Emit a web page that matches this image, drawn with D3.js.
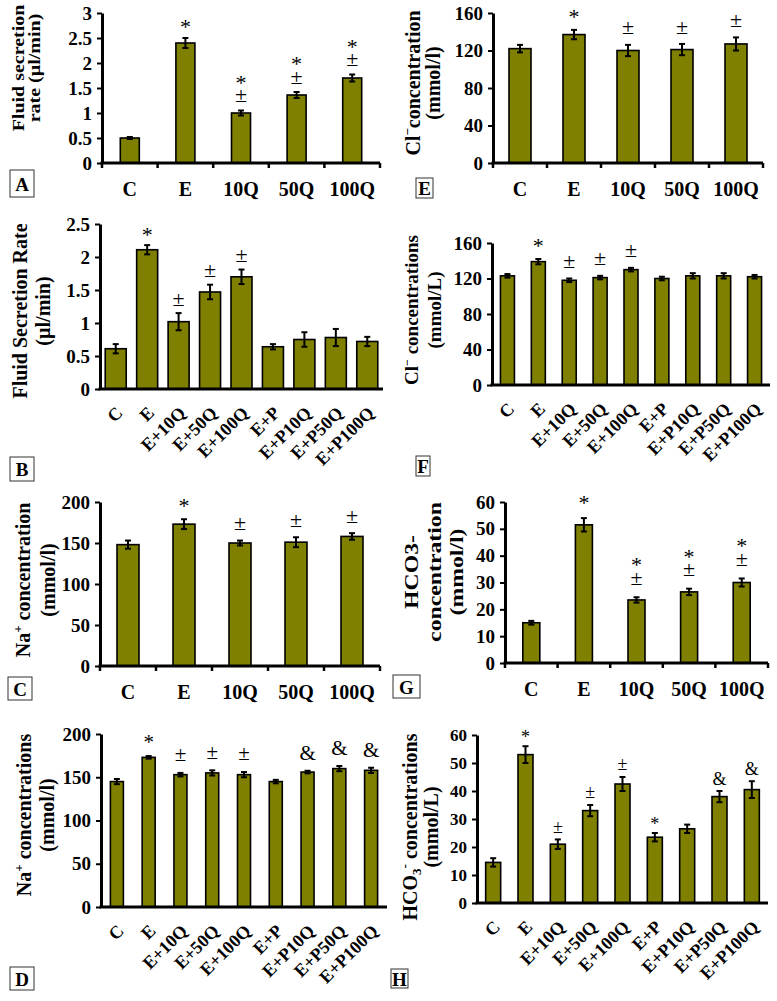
<!DOCTYPE html>
<html>
<head>
<meta charset="utf-8">
<script src="https://d3js.org/d3.v7.min.js"></script>
<style>
body { margin: 0; background: #fff; }
</style>
</head>
<body>
<svg id="fig" width="777" height="1001"></svg>
<script>
// categories
var shortCats = ["C", "E", "10Q", "50Q", "100Q"];
var longCats = ["C", "E", "E+10Q", "E+50Q", "E+100Q", "E+P", "E+P10Q", "E+P50Q", "E+P100Q"];

// A - fluid secretion rate (µl/min)
var fluidA = [0.5, 2.4, 1.0, 1.36, 1.7];
var fluidAErr = [0.02, 0.1, 0.05, 0.06, 0.07];
var fluidAMarks = [[], ["*"], ["±", "*"], ["±", "*"], ["±", "*"]];

// B - fluid secretion rate with P
var fluidB = [0.61, 2.11, 1.02, 1.47, 1.70, 0.64, 0.75, 0.78, 0.72];
var fluidBErr = [0.07, 0.07, 0.13, 0.11, 0.11, 0.04, 0.11, 0.13, 0.07];
var fluidBMarks = [[], ["*"], ["±"], ["±"], ["±"], [], [], [], []];

// C - Na+
var naC = [148, 173, 150, 151, 158];
var naCErr = [5, 6, 3, 6, 4];
var naCMarks = [[], ["*"], ["±"], ["±"], ["±"]];

// D - Na+ with P
var naD = [145, 173, 153, 155, 153, 145, 156, 160, 158];
var naDErr = [3, 1.5, 2, 3, 3, 2, 1.5, 3, 3];
var naDMarks = [[], ["*"], ["±"], ["±"], ["±"], [], ["&"], ["&"], ["&"]];

// E - Cl-
var clE = [122, 137, 120, 121, 127];
var clEErr = [4, 5, 6, 6, 7];
var clEMarks = [[], ["*"], ["±"], ["±"], ["±"]];

// F - Cl- with P
var clF = [123, 139, 118, 121, 130, 120, 123, 123, 122];
var clFErr = [2, 3, 2, 2, 2, 2, 3, 3, 2];
var clFMarks = [[], ["*"], ["±"], ["±"], ["±"], [], [], [], []];

// G - HCO3-
var hcoG = [15, 51.5, 23.5, 26.5, 30];
var hcoGErr = [0.7, 2.5, 1.0, 1.2, 1.5];
var hcoGMarks = [[], ["*"], ["±", "*"], ["±", "*"], ["±", "*"]];

// H - HCO3- with P
var hcoH = [14.5, 53, 21, 33, 42.5, 23.5, 26.5, 38, 40.5];
var hcoHErr = [1.5, 3, 1.7, 2, 2.5, 1.5, 1.5, 2, 3];
var hcoHMarks = [[], ["*"], ["±"], ["±"], ["±"], ["*"], [], ["&"], ["&"]];

var serif = "'Liberation Serif', 'Times New Roman', serif";
var olive = "#7f7f00";

var panels = [
  { id: "A", cats: shortCats, vals: fluidA, errs: fluidAErr, marks: fluidAMarks,
    x0: 102, x1: 380, y0: 163, yTop: 13, max: 3, step: 0.5, barW: 19,
    tickFs: 19, catFs: 20, markFs: 22, markOff: 15, rot: false,
    title: [[{t: "Fluid secretion"}], [{t: "rate (µl/min)"}]], titleX: [24, 40], titleY: 68, titleFs: 20, titleScale: [0.82, 1],
    box: [10, 170, 24, 27] },
  { id: "B", cats: longCats, vals: fluidB, errs: fluidBErr, marks: fluidBMarks,
    x0: 100, x1: 383, y0: 389, yTop: 224, max: 2.5, step: 0.5, barW: 21,
    tickFs: 19, catFs: 18, markFs: 22, markOff: 14, rot: true,
    title: [[{t: "Fluid Secretion Rate"}], [{t: "(µl/min)"}]], titleX: [27, 50], titleY: 311, titleFs: 20, titleScale: [1, 1],
    box: [10, 457, 24, 24] },
  { id: "C", cats: shortCats, vals: naC, errs: naCErr, marks: naCMarks,
    x0: 100, x1: 380, y0: 666, yTop: 502, max: 200, step: 50, barW: 22,
    tickFs: 19, catFs: 20, markFs: 22, markOff: 17, rot: false,
    title: [[{t: "Na"}, {t: "+", sup: true}, {t: " concentration"}], [{t: "(mmol/l)"}]], titleX: [30, 55], titleY: 580, titleFs: 20, titleScale: [1, 1],
    box: [8, 677, 24, 23] },
  { id: "D", cats: longCats, vals: naD, errs: naDErr, marks: naDMarks,
    x0: 101, x1: 387, y0: 907, yTop: 734, max: 200, step: 50, barW: 13,
    tickFs: 19, catFs: 18, markFs: 21, markOff: 18, rot: true,
    title: [[{t: "Na"}, {t: "+", sup: true}, {t: " concentrations"}], [{t: "(mmol/l)"}]], titleX: [31, 54], titleY: 815, titleFs: 20, titleScale: [1, 1],
    box: [10, 967, 24, 23] },
  { id: "E", cats: shortCats, vals: clE, errs: clEErr, marks: clEMarks,
    x0: 493, x1: 763, y0: 163, yTop: 13, max: 160, step: 40, barW: 22,
    tickFs: 19, catFs: 20, markFs: 22, markOff: 17, rot: false,
    title: [[{t: "Cl"}, {t: "\u2212", sup: true}, {t: "concentration"}], [{t: "(mmol/l)"}]], titleX: [420, 440], titleY: 83, titleFs: 20, titleScale: [1, 1],
    box: [416, 178, 17, 20] },
  { id: "F", cats: longCats, vals: clF, errs: clFErr, marks: clFMarks,
    x0: 492, x1: 770, y0: 385, yTop: 243, max: 160, step: 40, barW: 14,
    tickFs: 19, catFs: 18, markFs: 22, markOff: 17, rot: true,
    title: [[{t: "Cl"}, {t: "\u2212", sup: true}, {t: " concentrations"}], [{t: "(mmol/L)"}]], titleX: [418, 441], titleY: 310, titleFs: 19, titleScale: [1, 1],
    box: [416, 456, 14, 20] },
  { id: "G", cats: shortCats, vals: hcoG, errs: hcoGErr, marks: hcoGMarks,
    x0: 505, x1: 768, y0: 663, yTop: 502, max: 60, step: 10, barW: 17,
    tickFs: 19, catFs: 20, markFs: 22, markOff: 19, rot: false,
    title: [[{t: "HCO3-"}], [{t: "concentration"}], [{t: "(mmol/l)"}]], titleX: [418, 441, 463], titleY: 572, titleFs: 19, titleScale: [1, 1.25],
    box: [393, 675, 27, 23] },
  { id: "H", cats: longCats, vals: hcoH, errs: hcoHErr, marks: hcoHMarks,
    x0: 477, x1: 768, y0: 903, yTop: 735, max: 60, step: 10, barW: 15,
    tickFs: 17, catFs: 18, markFs: 18, markOff: 12, rot: true,
    title: [[{t: "HCO"}, {t: "3", sub: true}, {t: "-", sup: true}, {t: " concentrations"}], [{t: "(mmol/L)"}]], titleX: [417, 438], titleY: 827, titleFs: 20, titleScale: [1, 1],
    box: [391, 969, 17, 19] }
];

var svg = d3.select("#fig");

// baseline shift so the glyph centre sits where we want it
var markShift = { "*": 0.5, "±": 0.3, "&": 0.34 };

function drawPanel(p) {
  var g = svg.append("g").attr("class", "panel-" + p.id);

  var y = d3.scaleLinear().domain([0, p.max]).range([p.y0, p.yTop]);
  var x = d3.scaleBand().domain(p.cats).range([p.x0, p.x1]);
  var cx = function(i) { return x(p.cats[i]) + x.bandwidth() / 2; };

  var rows = p.cats.map(function(c, i) {
    return { cat: c, v: p.vals[i], e: p.errs[i], m: p.marks[i], i: i };
  });

  // bars
  g.selectAll("rect.bar").data(rows).enter()
    .append("rect")
    .attr("class", "bar")
    .attr("x", d => cx(d.i) - p.barW / 2)
    .attr("y", d => y(d.v))
    .attr("width", p.barW)
    .attr("height", d => p.y0 - y(d.v))
    .attr("fill", olive)
    .attr("stroke", "#000")
    .attr("stroke-width", 1.6);

  // error bars
  var eb = g.selectAll("g.err").data(rows).enter().append("g").attr("class", "err");
  eb.append("line")
    .attr("x1", d => cx(d.i)).attr("x2", d => cx(d.i))
    .attr("y1", d => y(d.v - d.e)).attr("y2", d => y(d.v + d.e))
    .attr("stroke", "#000").attr("stroke-width", 2);
  [1, -1].forEach(function(sgn) {
    eb.append("line")
      .attr("x1", d => cx(d.i) - 3).attr("x2", d => cx(d.i) + 3)
      .attr("y1", d => y(d.v + sgn * d.e)).attr("y2", d => y(d.v + sgn * d.e))
      .attr("stroke", "#000").attr("stroke-width", 2);
  });

  // significance marks, stacked upward from the error bar top (one text per bar)
  rows.filter(d => d.m.length).forEach(function(d) {
    var t = g.append("text")
      .attr("text-anchor", "middle")
      .attr("font-family", serif)
      .attr("font-size", p.markFs);
    d.m.forEach(function(s, k) {
      var c = y(d.v + d.e) - p.markOff - k * 17;
      t.append("tspan")
        .attr("x", cx(d.i))
        .attr("y", c + markShift[s] * p.markFs)
        .text(s);
    });
  });

  // y axis
  var yAxis = d3.axisLeft(y)
    .tickValues(d3.range(0, p.max + p.step / 2, p.step))
    .tickFormat(d => String(+d.toFixed(2)))
    .tickSize(5).tickSizeOuter(0).tickPadding(5);
  var ya = g.append("g").attr("transform", "translate(" + p.x0 + ",0)").call(yAxis);
  ya.select(".domain").attr("stroke-width", 3);
  ya.selectAll(".tick line").attr("stroke-width", 2);
  ya.selectAll("text")
    .attr("font-family", serif).attr("font-weight", "bold")
    .attr("font-size", p.tickFs).attr("fill", "#000");

  // x axis line
  g.append("line")
    .attr("x1", p.x0 - 1.5).attr("x2", p.x1)
    .attr("y1", p.y0).attr("y2", p.y0)
    .attr("stroke", "#000").attr("stroke-width", 3);

  if (!p.rot) {
    // boundary ticks under the axis
    var bounds = p.cats.map(c => x(c)).concat([p.x1]);
    g.selectAll("line.xt").data(bounds).enter().append("line")
      .attr("x1", d => d).attr("x2", d => d)
      .attr("y1", p.y0).attr("y2", p.y0 + 5)
      .attr("stroke", "#000").attr("stroke-width", 2.5);
    g.selectAll("text.cat").data(rows).enter().append("text")
      .attr("x", d => cx(d.i))
      .attr("y", p.y0 + 33)
      .attr("text-anchor", "middle")
      .attr("font-family", serif).attr("font-weight", "bold")
      .attr("font-size", p.catFs)
      .text(d => d.cat);
  } else {
    g.selectAll("text.cat").data(rows).enter().append("text")
      .attr("transform", d => "translate(" + (cx(d.i) + 8) + "," + (p.y0 + 25) + ") rotate(-45)")
      .attr("text-anchor", "end")
      .attr("font-family", serif).attr("font-weight", "bold")
      .attr("font-size", p.catFs)
      .text(d => d.cat);
  }

  // y title, one text per line
  var fs = p.titleFs, small = Math.round(fs * 0.65);
  p.title.forEach(function(line, li) {
    var t = g.append("text")
      .attr("transform", "translate(" + p.titleX[li] + "," + p.titleY + ") scale(" + p.titleScale.join(",") + ") rotate(-90)")
      .attr("text-anchor", "middle")
      .attr("font-family", serif).attr("font-weight", "bold")
      .attr("font-size", fs);
    var shift = 0;
    line.forEach(function(seg) {
      var want = seg.sup ? -fs * 0.38 : seg.sub ? fs * 0.22 : 0;
      t.append("tspan")
        .attr("dy", want - shift)
        .attr("font-size", (seg.sup || seg.sub) ? small : fs)
        .text(seg.t);
      shift = want;
    });
  });

  // panel letter box
  g.append("rect")
    .attr("x", p.box[0]).attr("y", p.box[1])
    .attr("width", p.box[2]).attr("height", p.box[3])
    .attr("fill", "none").attr("stroke", "#333").attr("stroke-width", 1);
  g.append("text")
    .attr("x", p.box[0] + p.box[2] / 2)
    .attr("y", p.box[1] + p.box[3] / 2 + 7)
    .attr("text-anchor", "middle")
    .attr("font-family", serif).attr("font-weight", "bold")
    .attr("font-size", 19)
    .text(p.id);
}

panels.forEach(drawPanel);
</script>
</body>
</html>
